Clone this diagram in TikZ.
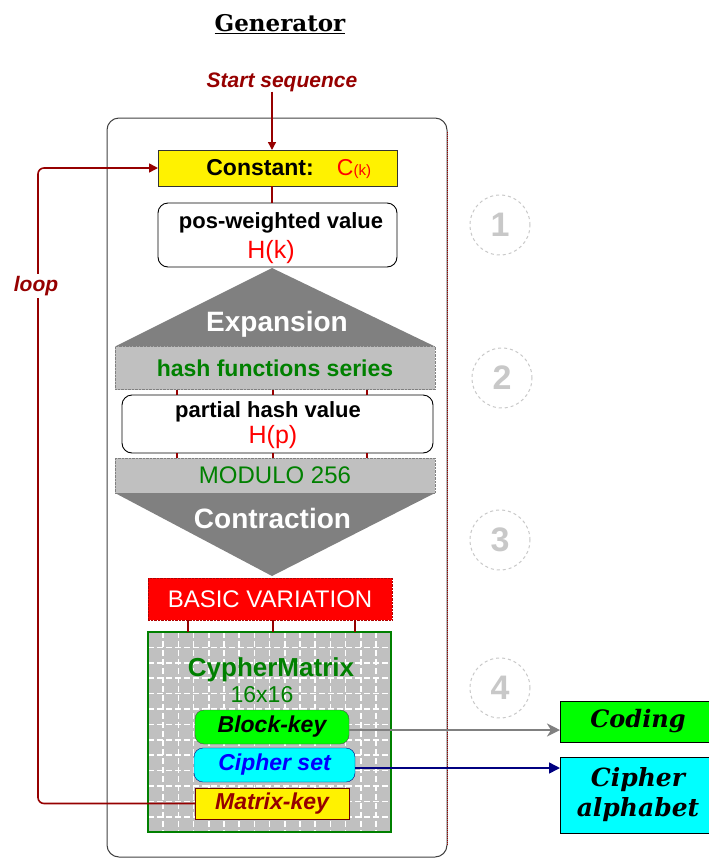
\documentclass[tikz,border=0pt]{standalone}
\usepackage{fontspec}
\setmainfont{Liberation Sans}
\newfontfamily\serifbi{DejaVu Serif}
\usetikzlibrary{arrows.meta}
\definecolor{dred}{RGB}{150,0,0}
\definecolor{mgray}{RGB}{128,128,128}
\definecolor{lgray}{RGB}{192,192,192}
\definecolor{dgreen}{RGB}{0,128,0}
\definecolor{navyb}{RGB}{0,0,128}
\definecolor{cgray}{RGB}{200,200,200}
\definecolor{lime}{RGB}{0,255,0}
\definecolor{cyanb}{RGB}{0,255,255}
\newcommand{\fs}[1]{\fontsize{#1}{#1}\selectfont}
\tikzset{
  every node/.style={inner sep=0pt, outer sep=0pt},
  conn/.style={dred, line width=1.4pt},
  grayband/.style={fill=lgray, draw=mgray, densely dotted, minimum width=320, text=dgreen},
  roundbox/.style={draw=black, fill=white, rounded corners=10, line width=0.9pt},
  boxlabel/.style={font=\bfseries\fs{22}},
  hval/.style={text=red, font=\fs{25}},
  keybox/.style={rounded corners=9, minimum width=154, minimum height=34, font=\bfseries\itshape\fs{23}},
  numcirc/.style={circle, draw=cgray, dashed, line width=1pt, minimum size=60, text=cgray, font=\bfseries\fs{34}},
  outbox/.style={draw=black, line width=0.9pt, minimum width=156, font=\serifbi\bfseries\itshape\fs{24}, align=center},
  gridline/.style={white, dash pattern=on 6pt off 3pt, line width=1.5pt}
}
\begin{document}
\begin{tikzpicture}[x=1pt,y=-1pt]
\useasboundingbox (0,0) rectangle (709,860);
% title
\node[font=\serifbi\bfseries\fs{23}] (title) at (280,24) {\underline{Generator}};
\node[font=\bfseries\itshape\fs{21}, text=dred] (start) at (282,82) {Start sequence};
% outer frame
\draw[black!75, line width=1pt, rounded corners=12] (107,118) rectangle (447,857);
\draw[dred, densely dotted, line width=1pt] (447,132) -- (447,845);
\coordinate (axis) at (272,0);
% constant
\node[fill=yellow, draw=black!80, line width=0.8pt, minimum width=239, minimum height=36] (const) at (277.5,168) {};
\node[font=\bfseries\fs{23}] (constt) at (260,168) {Constant:};
\node[text=red, font=\fs{23}] (ck) at (354,169) {C{\fs{15}(k)}};
\draw[conn, -{Triangle[length=8pt,width=8pt]}] (start.south -| axis) -- (const.north -| axis);
% pos weighted
\node[roundbox, minimum width=239, minimum height=64] (pos) at (277.5,235) {};
\node[boxlabel] (post) at (281,223) {pos-weighted value};
\node[hval] (hk) at (271,252) {H(k)};
\draw[conn] (const.south -| axis) -- (pos.north -| axis);
% expansion
\coordinate (expapex) at (272,268);
\node[grayband, minimum height=43, font=\bfseries\fs{23}] (hash) at (275,368) {hash functions series};
\fill[mgray] (expapex) -- (hash.north east) -- (hash.north west) -- cycle;
\node[text=white, font=\bfseries\fs{28}] (exp) at (277,324) {Expansion};
% partial
\node[roundbox, minimum width=311, minimum height=58] (part) at (277.5,424) {};
\node[boxlabel] (partt) at (268,412) {partial hash value};
\node[hval] (hp) at (273,437) {H(p)};
\node[grayband, minimum height=35, font=\fs{24}] (mod) at (275,475.5) {MODULO 256};
\foreach \x in {177,273,367}{
  \draw[conn, line width=2pt] (hash.south -| \x,0) -- (part.north -| \x,0);
  \draw[conn, line width=2pt] (part.south -| \x,0) -- (mod.north -| \x,0);
}
% contraction
\coordinate (conapex) at (272,576);
\fill[mgray] (mod.south west) -- (mod.south east) -- (conapex) -- cycle;
\node[text=white, font=\bfseries\fs{28}] (con) at (272.5,518) {Contraction};
% basic variation
\node[fill=red, draw=red!70!black, densely dotted, minimum width=244, minimum height=42, text=white, font=\fs{24}] (bv) at (270,599) {BASIC VARIATION};
% matrix
\node[fill=lgray, minimum width=243, minimum height=200] (mat) at (269.5,732) {};
\begin{scope}
\clip (mat.north west) rectangle (mat.south east);
\foreach \i in {1,...,15} \draw[gridline] (148+\i*15.2,632) -- ++(0,200);
\foreach \j in {1,...,12} \draw[gridline] (148,632+\j*15.4) -- ++(243,0);
\end{scope}
\draw[dgreen, line width=1.2pt] (mat.north west) rectangle (mat.south east);
\foreach \x in {188,273,355}
  \draw[conn, line width=2.2pt] (bv.south -| \x,0) -- (mat.north -| \x,0);
\node[text=dgreen, font=\bfseries\fs{26}] (cm) at (271,670) {CypherMatrix};
\node[text=dgreen, font=\fs{23}] (cm16) at (262,695) {16x16};
\node[keybox, fill=lime, draw=black!70] (bk) at (272,727) {Block-key};
\node[keybox, fill=cyanb, draw=navyb, minimum width=161, text=blue] (cs) at (274.5,765) {Cipher set};
\node[keybox, rounded corners=0, fill=yellow, draw=dred!70!black, minimum height=31, text=dred] (mk) at (272,803.5) {Matrix-key};
% outputs
\node[outbox, fill=lime, minimum height=41] (cod) at (638,721.5) {Coding};
\node[outbox, fill=cyanb, minimum height=76, font=\serifbi\bfseries\itshape\fs{25}] (alpha) at (638,795) {Cipher\\[5pt]alphabet};
\draw[gray, line width=2.2pt, -{Stealth[length=13pt,width=13pt,inset=4pt]}] (bk.east |- 0,730) -- (cod.west |- 0,730);
\draw[navyb, line width=1.5pt, -{Triangle[length=11pt,width=11pt]}] (cs.east |- 0,768) -- (alpha.west |- 0,768);
% loop
\coordinate (loopx) at (38,0);
\draw[conn, line width=1.6pt, rounded corners=6, -{Triangle[length=9pt,width=9pt]}] (mk.west) -- (mk.west -| loopx) -- (const.west -| loopx) -- (const.west);
\node[fill=white, inner sep=2pt, text=dred, font=\bfseries\itshape\fs{21}] (loopl) at (36,286) {loop};
% step numbers
\node[numcirc] (n1) at (500,225) {1};
\node[numcirc] (n2) at (502,378) {2};
\node[numcirc] (n3) at (500,540) {3};
\node[numcirc] (n4) at (500,688) {4};
\end{tikzpicture}
\end{document}
